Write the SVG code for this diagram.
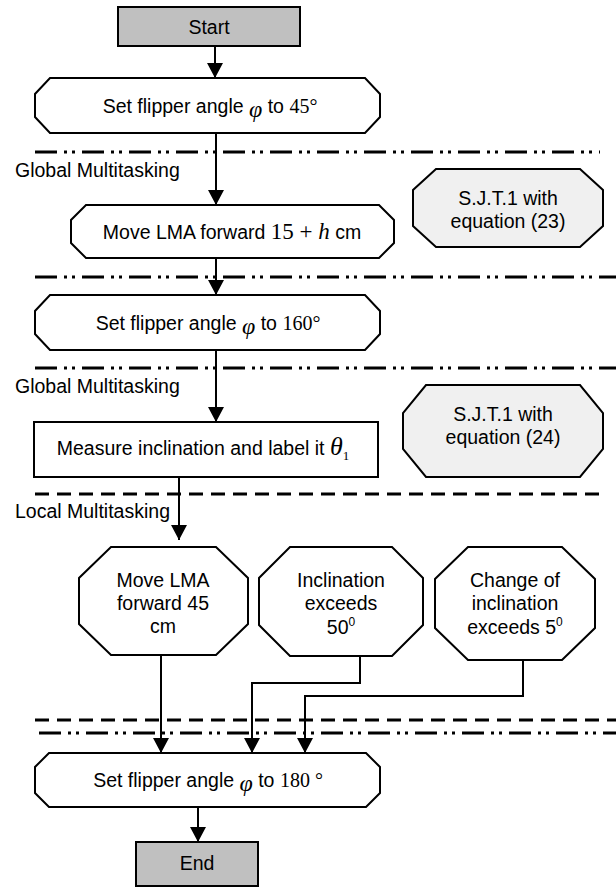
<svg xmlns="http://www.w3.org/2000/svg" width="616" height="887" viewBox="0 0 616 887">
  <style>
    .box { fill: #ffffff; stroke: #000000; stroke-width: 2; }
    .term { fill: #c0c0c0; stroke: #000000; stroke-width: 2; }
    .sjt { fill: #f0f0f0; stroke: #000000; stroke-width: 2; }
    .t { font-family: "Liberation Sans", Arial, sans-serif; font-size: 19.5px; fill: #000000; }
    .m { font-family: "Liberation Serif", "Times New Roman", serif; }
    .mi { font-family: "Liberation Serif", "Times New Roman", serif; font-style: italic; }
    .flow { fill: none; stroke: #000000; stroke-width: 2; }
    .dashdot { fill: none; stroke: #000000; stroke-width: 3; stroke-dasharray: 22 7 3 5 3 7; }
    .dash { fill: none; stroke: #000000; stroke-width: 3; stroke-dasharray: 14 8; }
  </style>
  <defs>
    <marker id="arrow" markerUnits="userSpaceOnUse" markerWidth="16" markerHeight="17" refX="15" refY="8" orient="auto">
      <path d="M0,0 L15,8 L0,16 Z" fill="#000000"/>
    </marker>
  </defs>

  <!-- section separators -->
  <g id="separators">
    <line class="dashdot" x1="35" y1="152" x2="600" y2="152"/>
    <line class="dashdot" x1="35" y1="277" x2="616" y2="277"/>
    <line class="dashdot" x1="35" y1="368" x2="616" y2="368"/>
    <line class="dash" x1="35" y1="494" x2="600" y2="494"/>
    <line class="dash" x1="35" y1="720" x2="616" y2="720"/>
    <line class="dashdot" x1="39" y1="733" x2="616" y2="733"/>
  </g>

  <!-- section labels -->
  <g id="labels">
    <text class="t" x="15" y="177">Global Multitasking</text>
    <text class="t" x="15" y="393">Global Multitasking</text>
    <text class="t" x="15" y="518">Local Multitasking</text>
  </g>

  <!-- connectors -->
  <g id="connectors">
    <path class="flow" d="M215,46 V78" marker-end="url(#arrow)"/>
    <path class="flow" d="M216,133 V205" marker-end="url(#arrow)"/>
    <path class="flow" d="M216,258 V295" marker-end="url(#arrow)"/>
    <path class="flow" d="M216,350 V422" marker-end="url(#arrow)"/>
    <path class="flow" d="M179,477 V540" marker-end="url(#arrow)"/>
    <path class="flow" d="M161,655 V753" marker-end="url(#arrow)"/>
    <path class="flow" d="M360,656 V683 H252 V753" marker-end="url(#arrow)"/>
    <path class="flow" d="M523,656 V696 H305 V753" marker-end="url(#arrow)"/>
    <path class="flow" d="M198,807 V842" marker-end="url(#arrow)"/>
  </g>

  <g id="start">
    <rect class="term" x="118" y="7" width="182" height="39"/>
    <text class="t" x="209" y="34" text-anchor="middle">Start</text>
  </g>

  <g id="set45">
    <path class="box" d="M50,78 H365 L380,94 V117 L365,133 H50 L35,117 V94 Z"/>
    <text class="t" x="210" y="113" text-anchor="middle">Set flipper angle <tspan class="mi" font-size="24" dy="4">φ</tspan><tspan dy="-4"> to </tspan><tspan class="m" font-size="20">45°</tspan></text>
  </g>

  <g id="move15">
    <path class="box" d="M86,205 H379 L394,220 V243 L379,258 H86 L71,243 V220 Z"/>
    <text class="t" x="232" y="239" text-anchor="middle">Move LMA forward <tspan class="m" font-size="23">15 + </tspan><tspan class="mi" font-size="23">h</tspan> cm</text>
  </g>

  <g id="sjt23">
    <path class="sjt" d="M436,169 H580 L603,190 V226 L580,247 H436 L413,226 V190 Z"/>
    <text class="t" x="508" y="205" text-anchor="middle">S.J.T.1 with</text>
    <text class="t" x="508" y="228" text-anchor="middle">equation (23)</text>
  </g>

  <g id="set160">
    <path class="box" d="M50,295 H365 L380,311 V334 L365,350 H50 L35,334 V311 Z"/>
    <text class="t" x="208" y="330" text-anchor="middle">Set flipper angle  <tspan class="mi" font-size="24" dy="4">φ</tspan><tspan dy="-4">  to </tspan><tspan class="m" font-size="20">160°</tspan></text>
  </g>

  <g id="measure">
    <rect class="box" x="34" y="422" width="344" height="55"/>
    <text class="t" x="203" y="455" text-anchor="middle">Measure inclination and label it <tspan class="mi" font-size="26">θ</tspan><tspan class="m" font-size="13" dy="5">1</tspan></text>
  </g>

  <g id="sjt24">
    <path class="sjt" d="M426,385 H580 L603,413 V449 L580,477 H426 L403,449 V413 Z"/>
    <text class="t" x="503" y="421" text-anchor="middle">S.J.T.1 with</text>
    <text class="t" x="503" y="444" text-anchor="middle">equation (24)</text>
  </g>

  <g id="move45">
    <path class="box" d="M111,547 H216 L248,578 V624 L216,655 H111 L79,624 V578 Z"/>
    <text class="t" x="163" y="587" text-anchor="middle">Move LMA</text>
    <text class="t" x="163" y="610" text-anchor="middle">forward 45</text>
    <text class="t" x="163" y="633" text-anchor="middle">cm</text>
  </g>

  <g id="incl50">
    <path class="box" d="M290,547 H392 L423,578 V625 L392,656 H290 L259,625 V578 Z"/>
    <text class="t" x="341" y="587" text-anchor="middle">Inclination</text>
    <text class="t" x="341" y="610" text-anchor="middle">exceeds</text>
    <text class="t" x="341" y="634" text-anchor="middle">50<tspan font-size="12" dy="-8">0</tspan></text>
  </g>

  <g id="change5">
    <path class="box" d="M468,547 H562 L595,579 V628 L562,660 H468 L435,628 V579 Z"/>
    <text class="t" x="515" y="587" text-anchor="middle">Change of</text>
    <text class="t" x="515" y="610" text-anchor="middle">inclination</text>
    <text class="t" x="515" y="634" text-anchor="middle">exceeds 5<tspan font-size="12" dy="-8">0</tspan></text>
  </g>

  <g id="set180">
    <path class="box" d="M49,753 H366 L380,767 V793 L366,807 H49 L35,793 V767 Z"/>
    <text class="t" x="208" y="787" text-anchor="middle">Set flipper angle <tspan class="mi" font-size="24" dy="4">φ</tspan><tspan dy="-4">  to </tspan><tspan class="m" font-size="20">180 °</tspan></text>
  </g>

  <g id="end">
    <rect class="term" x="136" y="842" width="122" height="44"/>
    <text class="t" x="197" y="870" text-anchor="middle">End</text>
  </g>
</svg>
